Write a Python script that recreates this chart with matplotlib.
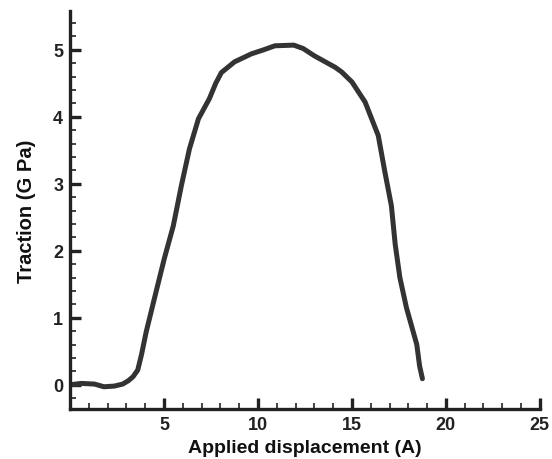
import matplotlib.pyplot as plt
from matplotlib.ticker import MultipleLocator

# Traction vs applied displacement curve

displacement = [0.0, 0.6, 1.3, 1.8, 2.35, 2.8, 3.1, 3.35, 3.6, 3.8, 4.05, 4.48,
                5.01, 5.49, 5.92, 6.35, 6.83, 7.41, 7.75, 8.05, 8.75, 9.65, 10.3,
                10.9, 11.9, 12.4, 13.0, 14.1, 14.45, 15.0, 15.7, 16.4, 16.75,
                17.1, 17.3, 17.55, 17.9, 18.2, 18.45, 18.6, 18.75]
traction = [0.0, 0.02, 0.01, -0.03, -0.02, 0.01, 0.06, 0.12, 0.22, 0.45, 0.79,
            1.28, 1.88, 2.37, 2.97, 3.52, 3.97, 4.27, 4.5, 4.66, 4.82, 4.94, 5.0,
            5.06, 5.07, 5.02, 4.91, 4.74, 4.67, 4.52, 4.22, 3.72, 3.18,
            2.67, 2.1, 1.6, 1.15, 0.85, 0.6, 0.28, 0.09]

fig = plt.figure(figsize=(5.52, 4.6), dpi=100)
ax = fig.add_axes([0.127, 0.109, 0.851, 0.865])

ax.plot(displacement, traction, color="#333333", linewidth=3.6,
        solid_capstyle="round", solid_joinstyle="round")

ax.set_xlim(0, 25)
ax.set_ylim(-0.36, 5.58)
ax.xaxis.set_major_locator(MultipleLocator(5))
ax.xaxis.set_minor_locator(MultipleLocator(1))
ax.yaxis.set_major_locator(MultipleLocator(1))
ax.yaxis.set_minor_locator(MultipleLocator(0.2))

for s in ["top", "right"]:
    ax.spines[s].set_visible(False)
for s in ["left", "bottom"]:
    ax.spines[s].set_linewidth(2.4)
    ax.spines[s].set_color("#222222")

ax.tick_params(which="major", direction="in", length=8, width=2.4, color="#222222",
               labelsize=13, pad=5)
ax.tick_params(which="minor", direction="in", length=4, width=1.2, color="#222222")

xt = [5, 10, 15, 20, 25]
ax.set_xticks(xt)
ax.set_xticklabels([str(v) for v in xt])
yt = [0, 1, 2, 3, 4, 5]
ax.set_yticks(yt)
ax.set_yticklabels([str(v) for v in yt])
for lab in ax.get_xticklabels() + ax.get_yticklabels():
    lab.set_fontfamily("Liberation Sans")
    lab.set_fontweight("bold")
    lab.set_color("#222222")

ax.set_xlabel("Applied displacement (A)", fontsize=14, fontweight="bold",
              family="Liberation Sans", color="#111111", labelpad=4.5)
ax.set_ylabel("Traction (G Pa)", fontsize=14.5, fontweight="bold",
              family="Liberation Sans", color="#111111", labelpad=12)

fig.savefig("out.png", dpi=100)
